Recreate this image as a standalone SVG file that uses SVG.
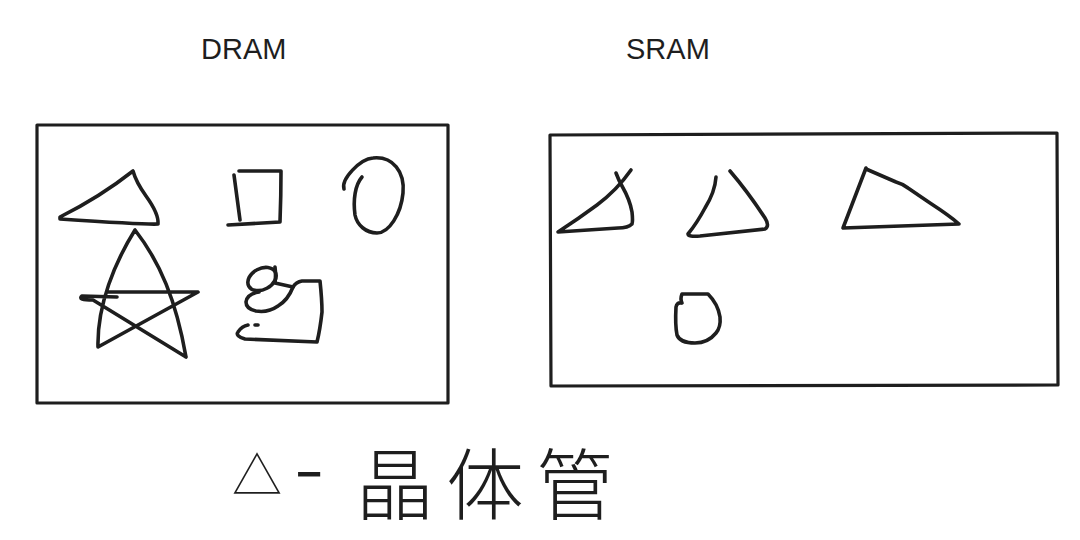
<svg xmlns="http://www.w3.org/2000/svg" width="1080" height="540" viewBox="0 0 1080 540">
<style>
.frame{fill:none;stroke:#1e1e1e;stroke-width:3.2;stroke-linejoin:round}
.ink{fill:none;stroke:#1e1e1e;stroke-width:3.6;stroke-linecap:round;stroke-linejoin:round}
.title{font-family:"Liberation Sans",Arial,sans-serif;font-size:29px;fill:#1e1e1e}
.hand{font-family:"Noto Sans CJK SC","Noto Sans",sans-serif;fill:#1e1e1e;font-weight:300}
</style>
<rect width="1080" height="540" fill="#ffffff"/>
<g id="dram">
  <text class="title" x="201" y="59">DRAM</text>
  <rect class="frame" x="37" y="125" width="411" height="278"/>
  <g id="dram-triangle"><path class="ink" d="M60 217 Q100 197 133 171 Q136 182 146 196 Q159 214 158 224 Q150 225 60 219 Z"/></g>
  <g id="dram-square"><path class="ink" d="M234 175 Q237 197 240 220 M239 171 L281 171 Q281 196 280 222 L228 225"/></g>
  <g id="dram-oval"><path class="ink" d="M344 189 C341 179 360 159 373 158 C393 156 405 172 403 193 C401 214 389 233 377 233 C366 233 357 225 355 215 C353 200 355 185 362 177"/></g>
  <g id="dram-star"><path class="ink" d="M186 357 C176 300 160 262 135 230 C115 262 97 305 98 347 L198 292 L108 292 M117 297 L82 296 Q77 300 93 300 L186 357"/></g>
  <g id="dram-blob">
    <ellipse class="ink" cx="262" cy="279" rx="15" ry="10.5" transform="rotate(-28 262 279)"/>
    <path class="ink" d="M275 267 Q276 275 275 283 L293 287 Q296 282 302 281 L320 281 Q322 300 322 312 Q320 330 317 342 L245 339 Q235 336 238 332 Q242 326 248 325"/>
    <path class="ink" d="M293 287 Q288 300 278 306 Q268 313 256 311 Q246 309 246 302 Q247 294 259 292"/>
    <path class="ink" d="M255 325 L258 325"/>
  </g>
</g>
<g id="sram">
  <text class="title" x="626" y="59">SRAM</text>
  <path class="frame" d="M550 135 L1057 133 L1058 385 L551 386 Z"/>
  <g id="sram-tri1"><path class="ink" d="M616 173 Q619 181 622 186 Q630 200 632 212 Q633 221 632 224 Q628 228 618 228 L558 232 Q578 219 597 205 Q617 190 631 170"/></g>
  <g id="sram-tri2"><path class="ink" d="M716 177 Q715 192 705 208 Q697 223 688 234 Q688 237 700 236 L765 229 Q770 226 765 218 Q748 192 730 171"/></g>
  <g id="sram-tri3"><path class="ink" d="M866 168 L843 228 L959 224 Q950 216 930 203 L908 188 Q903 184 896 182 L866 169"/></g>
  <g id="sram-oval"><path class="ink" d="M682 303 Q680 299 682 294 L708 294 Q718 304 720 317 Q721 327 716 333 Q708 343 695 343 Q680 343 677 335 Q675 325 676 307 Q677 302 682 303"/></g>
</g>
<g id="legend">
  <text class="hand"><tspan x="232" y="494" font-size="50">△</tspan><tspan x="294" y="499" font-size="90">-</tspan><tspan x="356" y="514" font-size="78" letter-spacing="12">晶体管</tspan></text>
</g>
</svg>
